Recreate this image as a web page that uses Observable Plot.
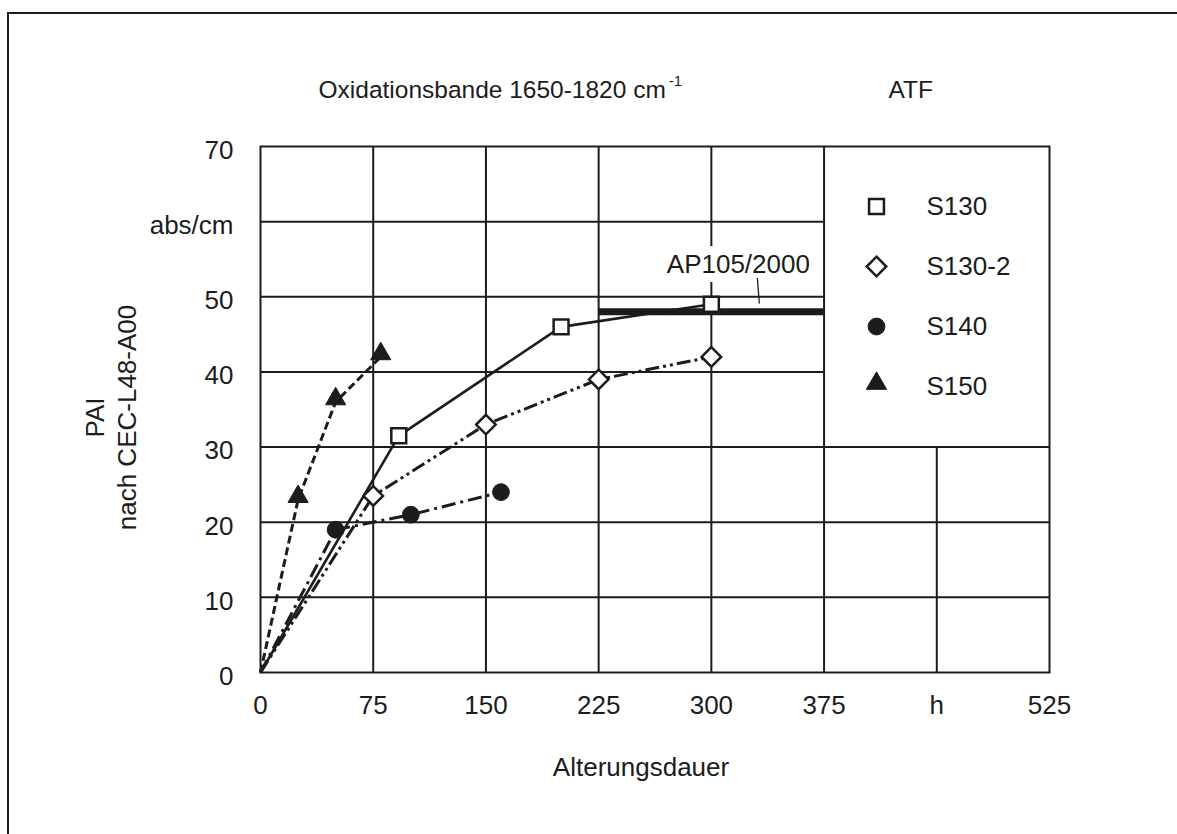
<!DOCTYPE html>
<html>
<head>
<meta charset="utf-8">
<script src="https://cdn.jsdelivr.net/npm/d3@7"></script>
<script src="https://cdn.jsdelivr.net/npm/@observablehq/plot@0.6"></script>
<style>
html, body { margin: 0; padding: 0; background: #fff; }
#wrap { position: relative; width: 1177px; height: 834px; overflow: hidden; }
#chart svg { display: block; }
#border { position: absolute; left: 7px; top: 12px; right: -20px; bottom: -20px;
  border-left: 2.5px solid #1c1c1c; border-top: 2.5px solid #1c1c1c; pointer-events: none; }
</style>
</head>
<body>
<div id="wrap"><div id="chart"></div><div id="border"></div></div>
<script>
// ---- Data ----
const xTicks = [0, 75, 150, 225, 300, 375, 450, 525];
const xTickLabels = ["0", "75", "150", "225", "300", "375", "h", "525"];
const yTicks = [0, 10, 20, 30, 40, 50, 60, 70];
const yTickLabels = ["0", "10", "20", "30", "40", "50", "abs/cm", "70"];

const seriesNames = ["S130", "S130-2", "S140", "S150"];
const s130X  = [0, 92, 200, 300];
const s130Y  = [0, 31.5, 46, 49];
const s1302X = [0, 75, 150, 225, 300];
const s1302Y = [0, 23.5, 33, 39, 42];
const s140X  = [0, 50, 100, 160];
const s140Y  = [0, 19, 21, 24];
const s150X  = [0, 25, 50, 80];
const s150Y  = [0, 23, 36, 42];

const apLabel = "AP105/2000";
const apValue = 48;
const apFrom = 225;
const apTo = 375;

const titleText = "Oxidationsbande 1650-1820 cm";
const titleSup = "-1";
const titleRight = "ATF";
const xLabelText = "Alterungsdauer";
const yLabelLines = ["PAI", "nach CEC-L48-A00"];

// ---- Build table ----
const seriesXs = [s130X, s1302X, s140X, s150X];
const seriesYs = [s130Y, s1302Y, s140Y, s150Y];
const rows = seriesNames.flatMap((name, i) =>
  seriesXs[i].map((x, j) => ({series: name, x, y: seriesYs[i][j]})));

// ---- Styles ----
const ink = "#1c1c1c";
const diamondSym = {
  draw(ctx, size) {
    const r = Math.sqrt(size) * 0.62625;
    ctx.moveTo(0, -r); ctx.lineTo(r, 0); ctx.lineTo(0, r); ctx.lineTo(-r, 0); ctx.closePath();
  }
};
const styles = {
  "S130":   {symbol: "square",   r: 8.4, fill: "white", sw: 2.5, dash: null,           lw: 2.6, dy: 0},
  "S130-2": {symbol: diamondSym, r: 8.8, fill: "white", sw: 2.5, dash: "14,4,3,4,3,4", lw: 3,   dy: 0},
  "S140":   {symbol: "circle",   r: 8.4, fill: ink,     sw: 1,   dash: "14,5,3,5",     lw: 3,   dy: 0},
  "S150":   {symbol: "triangle", r: 7.5, fill: ink,     sw: 1,   dash: "8,4",          lw: 3,   dy: -3}
};

const xMax = xTicks[xTicks.length - 1];
const yMax = yTicks[yTicks.length - 1];
const legendX = 375, legendY = 30; // lower-left corner of the legend box (scale units)

const marks = [];
// grid
marks.push(Plot.ruleX(xTicks.filter(v => v > 0 && v < xMax), {
  x: d => d, y1: 0, y2: d => d > legendX ? legendY : yMax, stroke: ink, strokeWidth: 2, strokeOpacity: 1
}));
marks.push(Plot.ruleY(yTicks.filter(v => v > 0 && v < yMax), {
  y: d => d, x1: 0, x2: d => d > legendY ? legendX : xMax, stroke: ink, strokeWidth: 2, strokeOpacity: 1
}));
marks.push(Plot.frame({stroke: ink, strokeWidth: 2}));

// axes
marks.push(Plot.axisX(xTicks, {
  tickSize: 0, tickPadding: 23, fontSize: 26, label: null,
  tickFormat: d => xTickLabels[xTicks.indexOf(d)]
}));
marks.push(Plot.axisY(yTicks, {
  tickSize: 0, tickPadding: 27, dy: 4, fontSize: 26, label: null,
  tickFormat: d => yTickLabels[yTicks.indexOf(d)]
}));

// AP105/2000 limit
marks.push(Plot.ruleY([apValue], {y: d => d, x1: apFrom, x2: apTo, stroke: ink, strokeWidth: 7}));

// series lines
seriesNames.forEach(name => {
  const st = styles[name];
  marks.push(Plot.line(rows.filter(r => r.series === name), {
    x: "x", y: "y", stroke: ink, strokeWidth: st.lw,
    strokeDasharray: st.dash || undefined, strokeLinejoin: "miter", strokeLinecap: "butt"
  }));
});
// series markers
seriesNames.forEach(name => {
  const st = styles[name];
  marks.push(Plot.dot(rows.filter(r => r.series === name && r.x > 0), {
    x: "x", y: "y", symbol: st.symbol, r: st.r, fill: st.fill, stroke: ink, strokeWidth: st.sw, dy: st.dy
  }));
});

// AP label with white background halo and leader
marks.push(Plot.text([apLabel], {
  x: () => (apFrom + apTo) / 2, y: () => apValue, text: d => d,
  dx: 27, dy: -39, lineAnchor: "bottom", textAnchor: "middle", fontSize: 26,
  fill: ink, stroke: "white", strokeWidth: 18, strokeLinejoin: "round"
}));
marks.push(Plot.link([apLabel], {
  x1: () => apFrom + (apTo - apFrom) * 0.704, y1: () => apValue + 4.5,
  x2: () => apFrom + (apTo - apFrom) * 0.713, y2: () => apValue + 1.1,
  stroke: ink, strokeWidth: 1.3
}));

// legend (inside the legend box at the upper right)
seriesNames.forEach((name, i) => {
  const st = styles[name];
  marks.push(Plot.dot([name], {
    frameAnchor: "top-right", dx: -173, dy: 60 + i * 60 + st.dy,
    symbol: st.symbol, r: st.r, fill: st.fill, stroke: ink, strokeWidth: st.sw
  }));
  marks.push(Plot.text([name], {
    frameAnchor: "top-right", dx: -123, dy: 60 + i * 60, text: d => d,
    textAnchor: "start", lineAnchor: "middle", fontSize: 26, fill: ink
  }));
});

// titles and axis labels
marks.push(Plot.text([titleText], {
  frameAnchor: "top-left", dx: 58, dy: -49, text: d => d,
  textAnchor: "start", lineAnchor: "bottom", fontSize: 24.5, fill: ink
}));
marks.push(Plot.text([titleRight], {
  frameAnchor: "top-left", dx: 628, dy: -49, text: d => d,
  textAnchor: "start", lineAnchor: "bottom", fontSize: 24.5, fill: ink
}));
marks.push(Plot.text([xLabelText], {
  frameAnchor: "bottom", dx: -14, dy: 103, text: d => d,
  textAnchor: "middle", lineAnchor: "bottom", fontSize: 26, fill: ink
}));
marks.push(Plot.text([yLabelLines[0]], {
  frameAnchor: "left", dx: -157, dy: 8, rotate: -90, text: d => d,
  textAnchor: "middle", lineAnchor: "bottom", fontSize: 26, fill: ink
}));
marks.push(Plot.text([yLabelLines[1]], {
  frameAnchor: "left", dx: -125, dy: 8, rotate: -90, text: d => d,
  textAnchor: "middle", lineAnchor: "bottom", fontSize: 26, fill: ink
}));

const chart = Plot.plot({
  width: 1177, height: 834,
  marginLeft: 260, marginRight: 128, marginTop: 146, marginBottom: 162,
  x: {type: "linear", domain: [0, xMax], label: null},
  y: {type: "linear", domain: [0, yMax], label: null},
  style: {fontFamily: "'Liberation Sans', Arial, Helvetica, sans-serif", fontSize: "26px", color: ink, background: "white"},
  marks
});

// superscript on the title
d3.select(chart).selectAll("text")
  .filter(function() { return this.textContent === titleText; })
  .append("tspan").attr("dx", 3).attr("dy", -12).attr("font-size", 15).text(titleSup);

document.getElementById("chart").appendChild(chart);
</script>
</body>
</html>
